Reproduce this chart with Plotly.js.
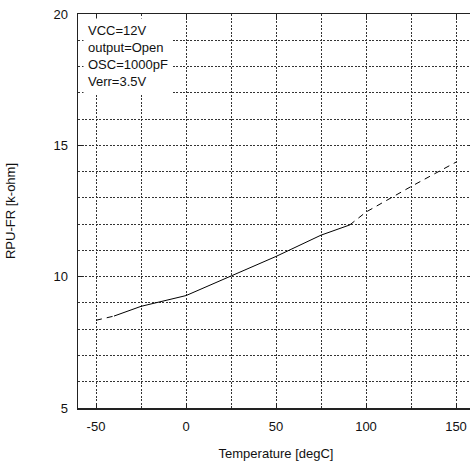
<!DOCTYPE html>
<html>
<head>
<meta charset="utf-8">
<script src="https://cdn.plot.ly/plotly-3.0.1.min.js"></script>
<style>html,body{margin:0;padding:0;overflow:hidden;background:#fff;width:470px;height:468px;}</style>
</head>
<body>
<div id="chart" style="width:480px;height:468px;"></div>
<script>
// Measured curve (solid part)
const tempSolid = [-40, -25, 0, 25, 50, 75, 91];
const rpuSolid  = [8.5, 8.87, 9.28, 10.02, 10.77, 11.58, 11.97];
// Extrapolated parts (dashed)
const tempLow  = [-50, -40];
const rpuLow   = [8.34, 8.5];
const tempHigh = [91, 100, 125, 150];
const rpuHigh  = [11.97, 12.46, 13.43, 14.36];

const xTickVals = [-50, 0, 50, 100, 150];
const xTickText = ["-50", "0", "50", "100", "150"];
const yTickVals = [5, 10, 15, 20];
const yTickText = ["5", "10", "15", "20"];

const conditions = ["VCC=12V", "output=Open", "OSC=1000pF", "Verr=3.5V"];
const xTitle = "Temperature [degC]";
const yTitle = "RPU-FR [k-ohm]";

const font = {family: "Liberation Sans, Arial, sans-serif", size: 13, color: "#111"};
const gridStyle = {gridcolor: "#333", griddash: "2px,1.5px", gridwidth: 1};

const traces = [
  {x: tempSolid, y: rpuSolid, mode: "lines", line: {color: "#000", width: 1}, showlegend: false},
  {x: tempLow, y: rpuLow, mode: "lines", line: {color: "#000", width: 1, dash: "6px,5px"}, showlegend: false},
  {x: tempHigh, y: rpuHigh, mode: "lines", line: {color: "#000", width: 1, dash: "6px,5px"}, showlegend: false}
];

const layout = {
  width: 480, height: 468,
  margin: {l: 78, r: 6, t: 14, b: 60},
  paper_bgcolor: "#fff", plot_bgcolor: "#fff",
  font: font,
  showlegend: false,
  xaxis: Object.assign({
    range: [-60, 160], tickmode: "array", tickvals: xTickVals, ticktext: xTickText, showgrid: true,
    minor: Object.assign({dtick: 25, tick0: 0, showgrid: true}, gridStyle),
    ticks: "inside", ticklen: 5, tickcolor: "#222",
    showline: true, linecolor: "#222", linewidth: 1.5, mirror: "ticks",
    zeroline: false, ticklabelstandoff: 6,
    title: {text: xTitle, font: font, standoff: 16}
  }, gridStyle),
  yaxis: Object.assign({
    range: [5, 20], tickmode: "array", tickvals: yTickVals, ticktext: yTickText, showgrid: true,
    minor: Object.assign({dtick: 1, tick0: 0, showgrid: true}, gridStyle),
    ticks: "inside", ticklen: 5, tickcolor: "#222",
    showline: true, linecolor: "#222", linewidth: 1.5, mirror: "ticks",
    zeroline: false, ticklabelstandoff: 6,
    title: {text: yTitle, font: font, standoff: 35}
  }, gridStyle),
  annotations: [{
    xref: "paper", yref: "paper", x: 0, y: 1, xanchor: "left", yanchor: "top",
    xshift: 5, yshift: -4,
    text: conditions.join("<br>"), align: "left", showarrow: false,
    bgcolor: "#fff", borderpad: 4, font: font
  }]
};

Plotly.newPlot("chart", traces, layout, {staticPlot: true, displayModeBar: false});
</script>
</body>
</html>
